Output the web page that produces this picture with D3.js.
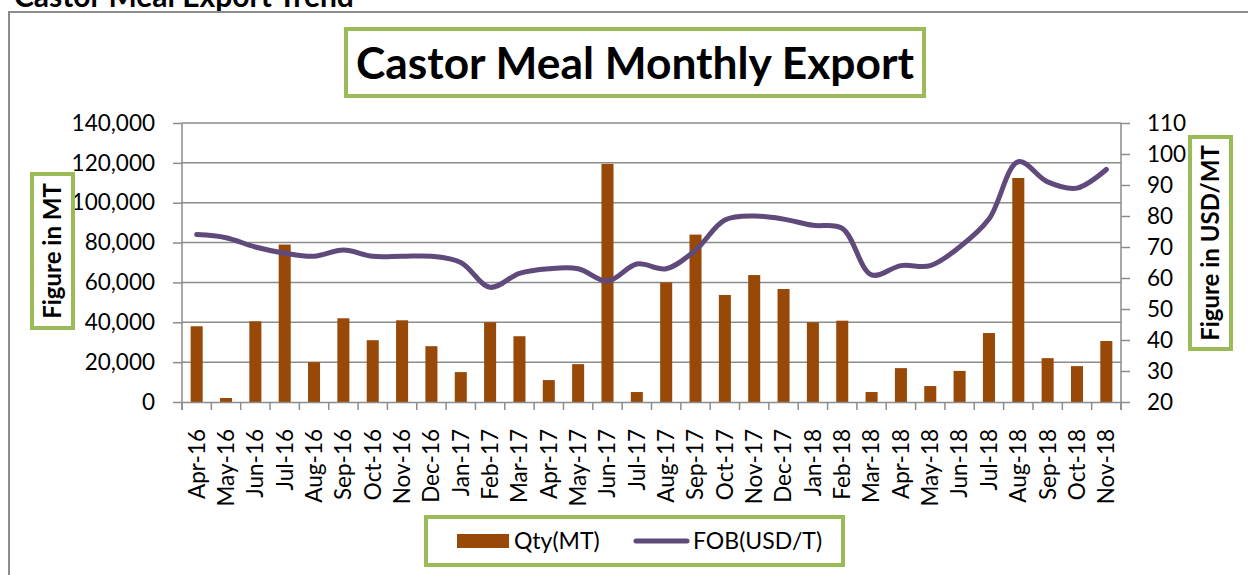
<!DOCTYPE html>
<html>
<head>
<meta charset="utf-8">
<script src="https://cdn.jsdelivr.net/npm/d3@7"></script>
<style>
  body { margin: 0; background: #fff; }
  svg { display: block; font-family: Lato, "Liberation Sans", sans-serif; }
</style>
</head>
<body>
<div id="chart"></div>
<script>
const months = ["Apr-16","May-16","Jun-16","Jul-16","Aug-16","Sep-16","Oct-16","Nov-16","Dec-16",
  "Jan-17","Feb-17","Mar-17","Apr-17","May-17","Jun-17","Jul-17","Aug-17","Sep-17","Oct-17","Nov-17","Dec-17",
  "Jan-18","Feb-18","Mar-18","Apr-18","May-18","Jun-18","Jul-18","Aug-18","Sep-18","Oct-18","Nov-18"];
const qty = [38000, 2000, 40500, 79000, 20000, 42000, 31000, 41000, 28000,
  15000, 40000, 33000, 11000, 19000, 119500, 5000, 60000, 84000, 53700, 63700, 56700,
  40000, 40800, 5000, 17000, 8000, 15600, 34600, 112400, 22000, 18000, 30600];
const fob = [74, 73, 70, 68, 67, 69, 67, 67, 67,
  65, 57, 61.5, 63, 63, 59, 64.5, 63, 69, 78.7, 80, 79,
  77, 76, 61, 64, 64, 70, 79, 97.5, 91, 89, 95];
const leftTicks = [0, 20000, 40000, 60000, 80000, 100000, 120000, 140000];
const rightTicks = [20, 30, 40, 50, 60, 70, 80, 90, 100, 110];

const width = 1248, height = 575;
const plot = { left: 182, right: 1121, top: 123, bottom: 402 };
const green = "#9bbb59", grid = "#8c8c8c";

const svg = d3.select("#chart").append("svg")
  .attr("width", width).attr("height", height);

// heading above the chart frame, cut by the top edge as in the source
svg.append("text").attr("x", 14).attr("y", 7)
  .attr("font-size", 30).attr("font-weight", "bold").attr("fill", "#000")
  .text("Castor Meal Export Trend");

// chart frame
svg.append("path")
  .attr("d", `M9,${height + 5}V12H${width + 5}`)
  .attr("fill", "none").attr("stroke", "#8c8c8c").attr("stroke-width", 2);

const x = d3.scaleBand().domain(months).range([plot.left, plot.right]).paddingInner(0.59).paddingOuter(0.295);
const xb = d3.scaleBand().domain(months).range([plot.left, plot.right]);
const yL = d3.scaleLinear().domain([0, 140000]).range([plot.bottom, plot.top]);
const yR = d3.scaleLinear().domain([20, 110]).range([plot.bottom, plot.top]);

// gridlines
svg.append("g").selectAll("line").data(leftTicks.slice(1)).join("line")
  .attr("x1", plot.left).attr("x2", plot.right)
  .attr("y1", d => yL(d)).attr("y2", d => yL(d))
  .attr("stroke", grid).attr("stroke-width", 1.5);

// bars
svg.append("g").selectAll("rect").data(qty).join("rect")
  .attr("x", (d, i) => x(months[i]))
  .attr("width", x.bandwidth())
  .attr("y", d => yL(d))
  .attr("height", d => plot.bottom - yL(d))
  .attr("fill", "#984807");

// left axis
const gL = svg.append("g").attr("transform", `translate(${plot.left},0)`)
  .call(d3.axisLeft(yL).tickValues(leftTicks).tickFormat(d3.format(",")).tickSize(9).tickPadding(18));
// right axis
const gR = svg.append("g").attr("transform", `translate(${plot.right},0)`)
  .call(d3.axisRight(yR).tickValues(rightTicks).tickSize(9).tickPadding(17));
// bottom axis with ticks at category boundaries
const gB = svg.append("g").attr("transform", `translate(0,${plot.bottom})`)
  .call(d3.axisBottom(xb).tickSize(0).tickPadding(0));
gB.selectAll(".tick text")
  .attr("transform", "rotate(-90)")
  .attr("text-anchor", "end")
  .attr("dy", "0.35em")
  .attr("x", -27).attr("y", 0);
gB.selectAll(".bnd").data(d3.range(months.length + 1)).join("line")
  .attr("class", "bnd")
  .attr("x1", i => plot.left + i * xb.step()).attr("x2", i => plot.left + i * xb.step())
  .attr("y1", 0).attr("y2", 8)
  .attr("stroke", grid).attr("stroke-width", 1.5);

[gL, gR, gB].forEach(g => {
  g.select(".domain").attr("stroke", grid).attr("stroke-width", 1.5);
  g.selectAll(".tick line").attr("stroke", grid).attr("stroke-width", 1.5);
  g.selectAll(".tick text").attr("font-size", 22.5).attr("fill", "#000")
    .attr("font-family", "Lato, 'Liberation Sans', sans-serif");
});
gL.select(".domain").attr("d", `M0,${plot.bottom + 8}V${plot.top}`);
gR.select(".domain").attr("d", `M0,${plot.bottom + 8}V${plot.top}`);

// FOB line
const line = d3.line()
  .x((d, i) => xb(months[i]) + xb.bandwidth() / 2)
  .y(d => yR(d))
  .curve(d3.curveCatmullRom.alpha(0.5));
svg.append("path").datum(fob)
  .attr("d", line)
  .attr("fill", "none").attr("stroke", "#604a7b")
  .attr("stroke-width", 5).attr("stroke-linecap", "round").attr("stroke-linejoin", "round");

// title box
svg.append("rect").attr("x", 346).attr("y", 29).attr("width", 578).attr("height", 67)
  .attr("fill", "#fff").attr("stroke", green).attr("stroke-width", 4);
svg.append("text").attr("x", 635).attr("y", 79).attr("text-anchor", "middle")
  .attr("font-size", 44).attr("font-weight", "bold").attr("fill", "#000")
  .attr("textLength", 558).attr("lengthAdjust", "spacingAndGlyphs")
  .text("Castor Meal Monthly Export");

// axis titles
svg.append("rect").attr("x", 32).attr("y", 174).attr("width", 41).attr("height", 154)
  .attr("fill", "#fff").attr("stroke", green).attr("stroke-width", 4);
svg.append("text").attr("transform", "translate(61,251) rotate(-90)")
  .attr("text-anchor", "middle").attr("font-size", 24).attr("font-weight", "bold")
  .text("Figure in MT");
svg.append("rect").attr("x", 1190).attr("y", 137).attr("width", 41).attr("height", 212)
  .attr("fill", "#fff").attr("stroke", green).attr("stroke-width", 4);
svg.append("text").attr("transform", "translate(1219,243) rotate(-90)")
  .attr("text-anchor", "middle").attr("font-size", 24).attr("font-weight", "bold")
  .text("Figure in USD/MT");

// legend
const lg = svg.append("g");
lg.append("rect").attr("x", 426).attr("y", 517).attr("width", 417).attr("height", 48)
  .attr("fill", "#fff").attr("stroke", green).attr("stroke-width", 4);
lg.append("rect").attr("x", 457).attr("y", 534).attr("width", 52).attr("height", 14).attr("fill", "#984807");
lg.append("text").attr("x", 514).attr("y", 549).attr("font-size", 23).text("Qty(MT)");
lg.append("line").attr("x1", 636).attr("x2", 687).attr("y1", 541).attr("y2", 541)
  .attr("stroke", "#604a7b").attr("stroke-width", 5).attr("stroke-linecap", "round");
lg.append("text").attr("x", 693).attr("y", 549).attr("font-size", 23).text("FOB(USD/T)");
</script>
</body>
</html>
